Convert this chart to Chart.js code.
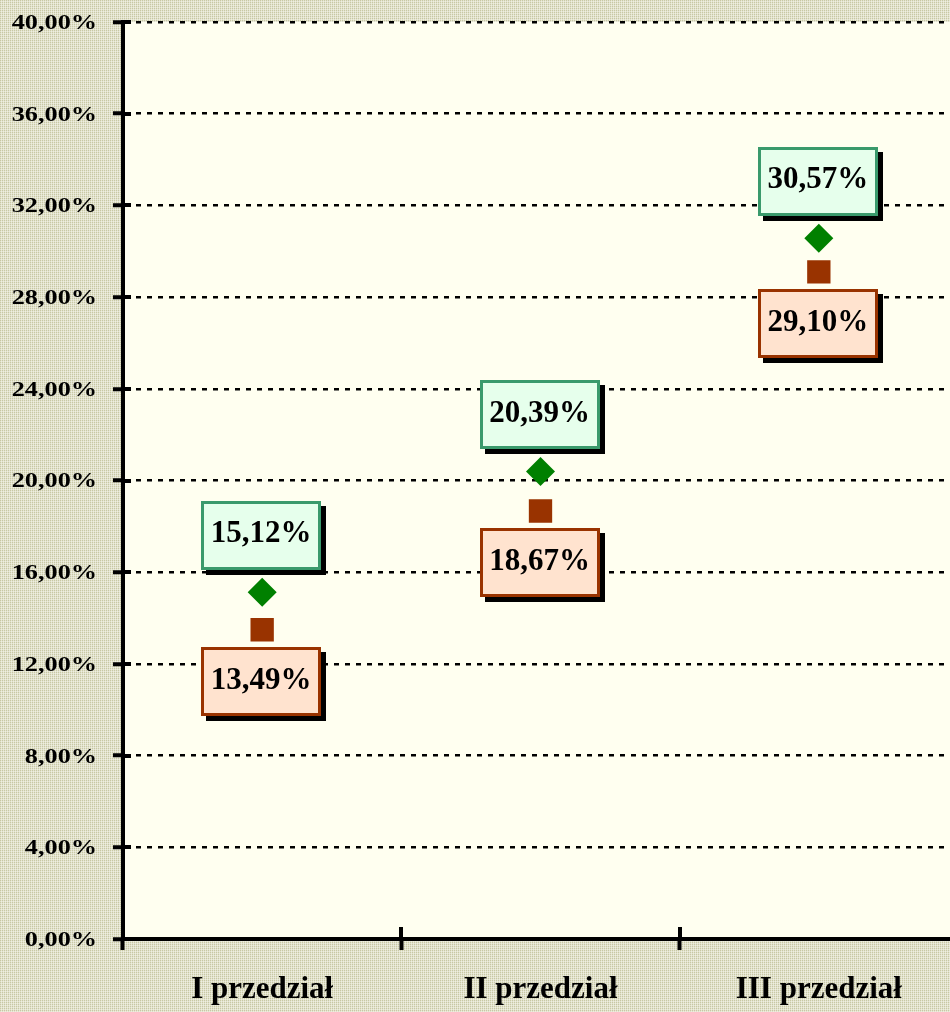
<!DOCTYPE html>
<html>
<head>
<meta charset="utf-8">
<script src="https://cdn.jsdelivr.net/npm/chart.js@4/dist/chart.umd.min.js"></script>
<style>
  html, body { margin: 0; padding: 0; overflow: hidden; background: #DCDCC6; }
  #wrap { width: 960px; height: 1012px; }
</style>
</head>
<body>
<div id="wrap"><canvas id="c" width="960" height="1012"></canvas></div>
<script>
const categories = ['I przedział', 'II przedział', 'III przedział'];
const seriesUpper = [15.12, 20.39, 30.57];   // green diamonds, label above
const seriesLower = [13.49, 18.67, 29.10];   // brown squares, label below
const yTicksMin = 0, yTicksMax = 40, yTicksStep = 4;

const fmt = v => v.toFixed(2).replace('.', ',') + '%';

function makePattern(ctx) {
  const pc = document.createElement('canvas');
  pc.width = 2; pc.height = 2;
  const p = pc.getContext('2d');
  const cols = [['#C8C8A4', '#E4E4D0'], ['#E0E0CA', '#EEEEE0']];
  for (let y = 0; y < 2; y++) for (let x = 0; x < 2; x++) {
    p.fillStyle = cols[y][x]; p.fillRect(x, y, 1, 1);
  }
  return ctx.createPattern(pc, 'repeat');
}

const bgPlugin = {
  id: 'bg',
  beforeDraw(chart) {
    const ctx = chart.ctx, a = chart.chartArea;
    ctx.save();
    ctx.fillStyle = makePattern(ctx);
    ctx.fillRect(0, 0, chart.width, chart.height);
    ctx.fillStyle = '#FFFFF0';
    ctx.fillRect(a.left, a.top, a.right - a.left, a.bottom - a.top);
    ctx.restore();
    const ys = chart.scales.y;
    if (ys && !ys._stretchPatch) {
      const orig = ys.drawLabels;
      ys.drawLabels = function (ca) {
        const c = this.ctx;
        const xr = this.right - this.options.grid.tickLength - this.options.ticks.padding;
        c.save();
        c.translate(xr, 1.5);
        c.scale(1.25, 1);
        c.translate(-xr, 0);
        orig.call(this, ca);
        c.restore();
      };
      ys._stretchPatch = true;
    }
  }
};

const innerTicks = {
  id: 'innerTicks',
  afterDatasetsDraw(chart) {
    const ctx = chart.ctx, a = chart.chartArea;
    const ys = chart.scales.y, xs = chart.scales.x;
    ctx.save();
    ctx.strokeStyle = '#000';
    ctx.lineWidth = 4;
    ys.ticks.forEach(t => {
      const y = Math.round(ys.getPixelForValue(t.value));
      ctx.beginPath(); ctx.moveTo(a.left, y); ctx.lineTo(a.left + 8, y); ctx.stroke();
    });
    const n = categories.length;
    const step = (xs.right - xs.left) / n;
    for (let i = 1; i < n; i++) {
      const x = Math.round(xs.getPixelForTick(i) - step / 2);
      ctx.beginPath(); ctx.moveTo(x, a.bottom - 12); ctx.lineTo(x, a.bottom); ctx.stroke();
    }
    ctx.restore();
  }
};

const boxLabels = {
  id: 'boxLabels',
  afterDatasetsDraw(chart) {
    const ctx = chart.ctx;
    const specs = [
      { ds: 0, dy: -57, border: '#3A9A6C', fill: '#E6FFEC' },
      { ds: 1, dy: 52, border: '#993300', fill: '#FFE3CF' }
    ];
    const w = 120, h = 69;
    ctx.save();
    specs.forEach(s => {
      const meta = chart.getDatasetMeta(s.ds);
      const vals = chart.data.datasets[s.ds].data;
      meta.data.forEach((pt, i) => {
        const cx = pt.x - 1, cy = pt.y + s.dy;
        const x0 = Math.round(cx - w / 2), y0 = Math.round(cy - h / 2);
        ctx.fillStyle = '#000';
        ctx.fillRect(x0 + 5, y0 + 5, w, h);
        ctx.fillStyle = s.fill;
        ctx.fillRect(x0, y0, w, h);
        ctx.lineWidth = 3;
        ctx.strokeStyle = s.border;
        ctx.strokeRect(x0 + 1.5, y0 + 1.5, w - 3, h - 3);
        ctx.fillStyle = '#000';
        ctx.font = 'bold 31px "Liberation Serif", "Times New Roman", serif';
        ctx.textAlign = 'center';
        ctx.textBaseline = 'middle';
        ctx.fillText(fmt(vals[i]), cx, cy - 1);
      });
    });
    ctx.restore();
  }
};

new Chart(document.getElementById('c'), {
  type: 'line',
  data: {
    labels: categories,
    datasets: [
      {
        label: 'Seria 1',
        data: seriesUpper,
        showLine: false,
        pointStyle: 'rectRot',
        pointRadius: 14.5,
        pointHoverRadius: 14.5,
        pointBackgroundColor: '#008000',
        pointBorderColor: '#008000',
        pointBorderWidth: 0
      },
      {
        label: 'Seria 2',
        data: seriesLower,
        showLine: false,
        pointStyle: 'rect',
        pointRadius: 16.5,
        pointHoverRadius: 16.5,
        pointBackgroundColor: '#993300',
        pointBorderColor: '#993300',
        pointBorderWidth: 0
      }
    ]
  },
  options: {
    responsive: false,
    animation: false,
    events: [],
    layout: { autoPadding: false, padding: { top: 22, right: 2, left: 0, bottom: 0 } },
    plugins: { legend: { display: false }, tooltip: { enabled: false } },
    scales: {
      x: {
        offset: true,
        afterFit(scale) {
          scale.height = 73;
          scale.paddingLeft = 0; scale.paddingRight = 0;
        },
        grid: {
          offset: true,
          drawOnChartArea: false,
          drawTicks: true,
          tickLength: 11,
          tickWidth: 4,
          tickColor: '#000'
        },
        border: { display: true, color: '#000', width: 4 },
        ticks: {
          color: '#000',
          padding: 21,
          maxRotation: 0,
          font: { family: '"Liberation Serif", "Times New Roman", serif', size: 31, weight: 'bold' }
        }
      },
      y: {
        min: yTicksMin,
        max: yTicksMax,
        afterFit(scale) {
          scale.width = 123;
          scale.paddingTop = 0; scale.paddingBottom = 0;
        },
        grid: {
          color: '#000',
          lineWidth: 2.5,
          drawTicks: true,
          tickLength: 10,
          tickWidth: 4,
          tickColor: '#000',
          tickBorderDash: []
        },
        border: { display: true, color: '#000', width: 4, dash: [5, 6] },
        ticks: {
          stepSize: yTicksStep,
          color: '#000',
          padding: 16,
          callback: v => fmt(v),
          font: { family: '"Liberation Serif", "Times New Roman", serif', size: 21, weight: 'bold' }
        }
      }
    }
  },
  plugins: [bgPlugin, innerTicks, boxLabels]
});
</script>
</body>
</html>
